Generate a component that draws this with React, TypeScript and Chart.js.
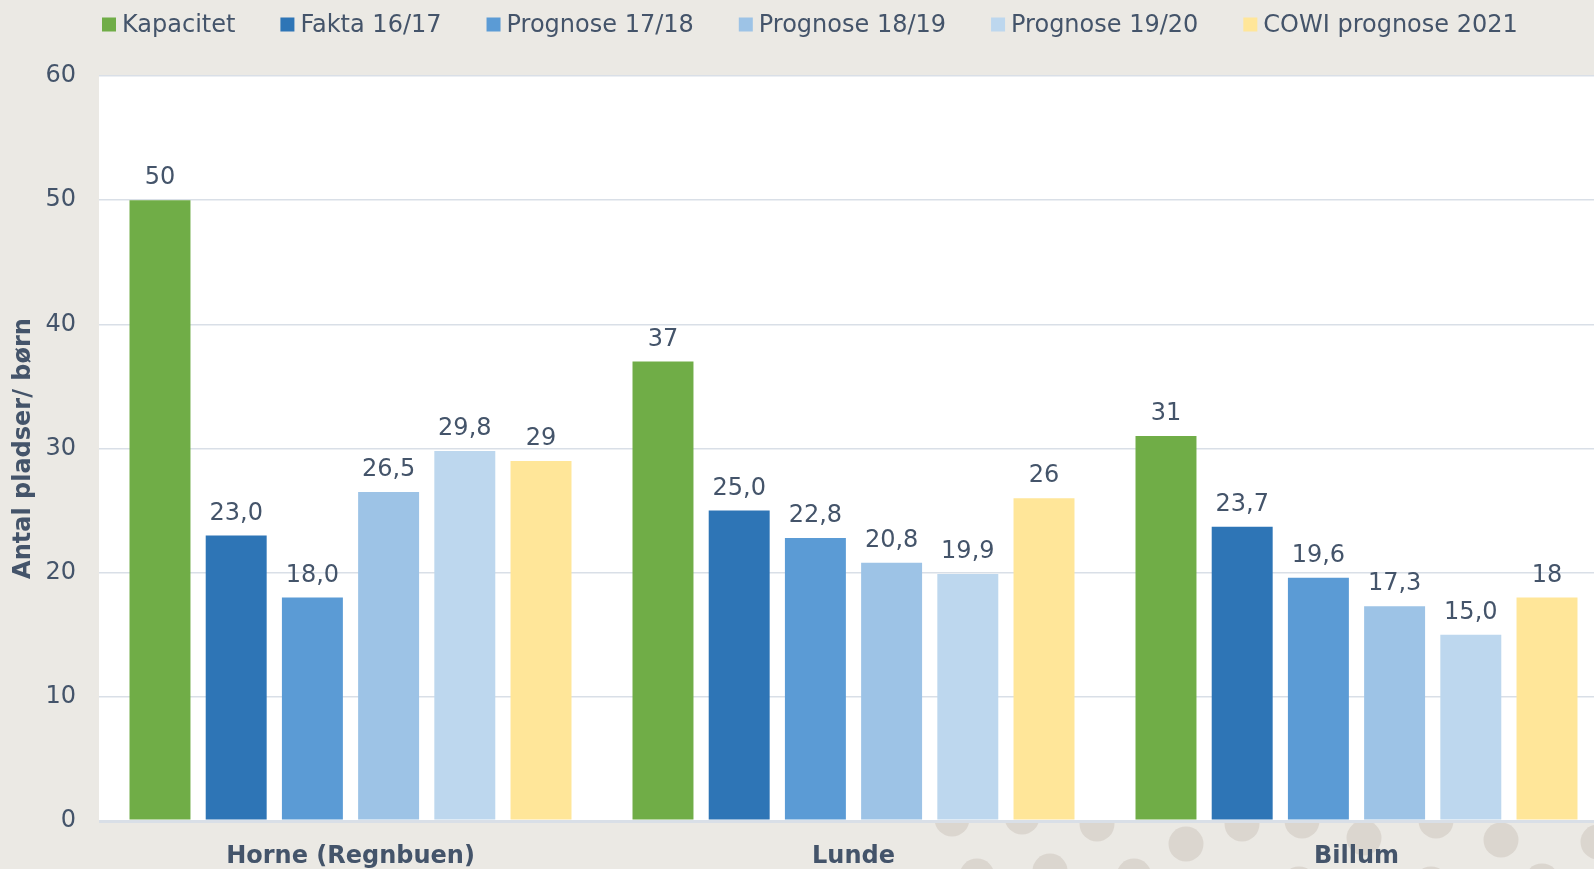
import { useEffect, useRef } from 'react';
import { Chart, registerables } from 'chart.js';

Chart.register(...registerables);

// ---- data ----
const categories = ['Horne (Regnbuen)', 'Lunde', 'Billum'];
const seriesNames = ['Kapacitet', 'Fakta 16/17', 'Prognose 17/18', 'Prognose 18/19', 'Prognose 19/20', 'COWI prognose 2021'];
const kapacitet = [50, 37, 31];
const fakta1617 = [23.0, 25.0, 23.7];
const prognose1718 = [18.0, 22.8, 19.6];
const prognose1819 = [26.5, 20.8, 17.3];
const prognose1920 = [29.8, 19.9, 15.0];
const cowi2021 = [29, 26, 18];
const labelDecimals = [0, 1, 1, 1, 1, 0];
const yMin = 0;
const yMax = 60;
const yStep = 10;
const yTitle = 'Antal pladser/ børn';

// ---- styles ----
const seriesColors = ['#70AD47', '#2E75B6', '#5B9BD5', '#9DC3E6', '#BDD7EE', '#FFE699'];
const TEXT = '#44546A';
const PAGE_BG = '#EBE9E4';
const DOT = '#DBD6CF';
const GRID = '#D9DFE7';
const FONT = "'DejaVu Sans', Verdana, sans-serif";
const CANVAS_W = 1610; // plot area runs past the right edge of the window, as in the original
const CANVAS_H = 869;
// decorative background texture (not data)
const BG_DOTS: [number, number][] = [
  [952, 819], [1022, 817], [1097, 824], [1186, 844], [1242, 824], [1302, 821],
  [1364, 838], [1436, 821], [1501, 840], [1598, 842], [977, 876], [1050, 871],
  [1134, 876], [1299, 884], [1431, 884], [1542, 881],
];

const allSeries = [kapacitet, fakta1617, prognose1718, prognose1819, prognose1920, cowi2021];

const backgroundPlugin = {
  id: 'bg',
  beforeDraw(chart: any) {
    const { ctx, chartArea, width, height } = chart;
    ctx.save();
    ctx.fillStyle = PAGE_BG;
    ctx.fillRect(0, 0, width, height);
    ctx.fillStyle = DOT;
    for (const [x, y] of BG_DOTS) {
      ctx.beginPath();
      ctx.arc(x, y, 17.5, 0, Math.PI * 2);
      ctx.fill();
    }
    ctx.fillStyle = '#FFFFFF';
    ctx.fillRect(chartArea.left, chartArea.top, chartArea.right - chartArea.left, chartArea.bottom - chartArea.top);
    ctx.restore();
  },
};

const legendPlugin = {
  id: 'customLegend',
  afterDraw(chart: any) {
    const { ctx } = chart;
    ctx.save();
    ctx.font = `24px ${FONT}`;
    ctx.textBaseline = 'middle';
    ctx.textAlign = 'left';
    let x = 102;
    const boxMid = 24.5;
    const textMid = 26;
    chart.data.datasets.forEach((ds: any) => {
      ctx.fillStyle = ds.backgroundColor;
      ctx.fillRect(x, boxMid - 7, 14, 14);
      x += 14 + 6;
      ctx.fillStyle = TEXT;
      ctx.fillText(ds.label, x, textMid);
      x += ctx.measureText(ds.label).width + 45;
    });
    ctx.restore();
  },
};

const dataLabelPlugin = {
  id: 'dataLabels',
  afterDatasetsDraw(chart: any) {
    const { ctx } = chart;
    ctx.save();
    ctx.font = `24px ${FONT}`;
    ctx.fillStyle = TEXT;
    ctx.textAlign = 'center';
    ctx.textBaseline = 'middle';
    chart.data.datasets.forEach((ds: any, di: number) => {
      const meta = chart.getDatasetMeta(di);
      meta.data.forEach((el: any, i: number) => {
        const v = ds.data[i] as number;
        const txt = v.toFixed(labelDecimals[di]).replace('.', ',');
        ctx.fillText(txt, el.x, el.y - 22);
      });
    });
    ctx.restore();
  },
};

export default function App() {
  const canvasRef = useRef<HTMLCanvasElement | null>(null);

  useEffect(() => {
    document.body.style.margin = '0';
    document.body.style.overflow = 'hidden';
    const canvas = canvasRef.current;
    if (!canvas) return;
    const chart = new Chart(canvas, {
      type: 'bar',
      data: {
        labels: categories,
        datasets: allSeries.map((d, i) => ({
          label: seriesNames[i],
          data: d,
          backgroundColor: seriesColors[i],
          borderWidth: 0,
          categoryPercentage: 0.909,
          barPercentage: 0.8,
        })),
      },
      options: {
        responsive: false,
        animation: false,
        layout: { padding: { top: 76, left: 0, right: 2, bottom: 0 } },
        plugins: {
          legend: { display: false },
          tooltip: { enabled: false },
        },
        scales: {
          x: {
            grid: { display: false, drawTicks: false },
            border: { display: false },
            ticks: {
              color: TEXT,
              padding: 21,
              font: { family: FONT, size: 24, weight: 'bold' },
            },
            afterFit(scale: any) {
              scale.height = 48;
            },
          },
          y: {
            min: yMin,
            max: yMax,
            border: { display: false },
            grid: {
              color: GRID,
              drawTicks: false,
              lineWidth: (c: any) => (c.tick && c.tick.value === 0 ? 3 : 1.5),
            },
            ticks: {
              stepSize: yStep,
              color: TEXT,
              padding: 23,
              font: { family: FONT, size: 24 },
            },
            title: {
              display: true,
              text: yTitle,
              color: TEXT,
              padding: { top: 9.5, bottom: 0 },
              font: { family: FONT, size: 24, weight: 'bold' },
            },
            afterFit(scale: any) {
              scale.width = 99;
            },
          },
        },
      },
      plugins: [backgroundPlugin, legendPlugin, dataLabelPlugin],
    });
    return () => chart.destroy();
  }, []);

  return (
    <div style={{ position: 'absolute', left: 0, top: 0, width: 1594, height: 869, overflow: 'hidden' }}>
      <canvas ref={canvasRef} width={CANVAS_W} height={CANVAS_H} />
    </div>
  );
}
